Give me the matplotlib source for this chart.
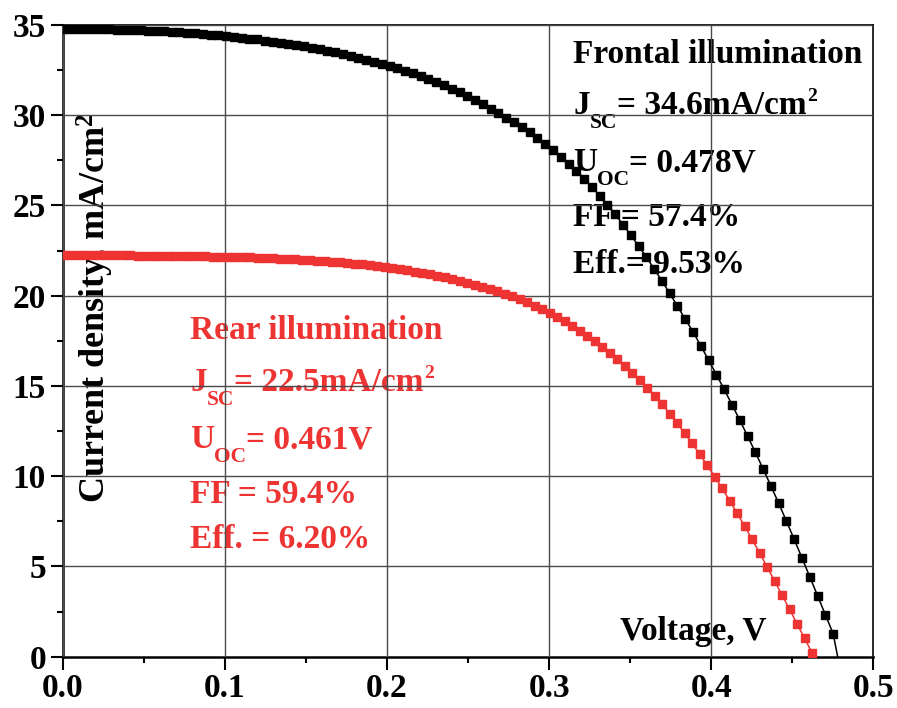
import numpy as np
import matplotlib
matplotlib.use("Agg")
import matplotlib.pyplot as plt
import matplotlib.transforms as mtransforms
from matplotlib.ticker import MultipleLocator, FormatStrFormatter

# J-V curves of the cell, front and rear illumination (voltage sweep steps)
V_STEP_FRONT = 0.0048
V_STEP_REAR = 0.004622
UOC_FRONT = 0.478

J_FRONT = [
    34.80, 34.80, 34.80, 34.79, 34.78, 34.78, 34.77, 34.75, 34.74, 34.72,
    34.70, 34.69, 34.66, 34.64, 34.61, 34.59, 34.56, 34.53, 34.49, 34.46,
    34.42, 34.38, 34.34, 34.30, 34.25, 34.20, 34.14, 34.08, 34.02, 33.95,
    33.88, 33.81, 33.73, 33.65, 33.57, 33.48, 33.38, 33.28, 33.18, 33.07,
    32.96, 32.84, 32.72, 32.59, 32.46, 32.32, 32.17, 32.02, 31.84, 31.66,
    31.47, 31.27, 31.05, 30.83, 30.60, 30.36, 30.13, 29.87, 29.61, 29.35,
    29.06, 28.75, 28.43, 28.08, 27.71, 27.32, 26.91, 26.48, 26.02, 25.54,
    25.03, 24.50, 23.94, 23.36, 22.76, 22.14, 21.49, 20.82, 20.13, 19.42,
    18.70, 18.00, 17.22, 16.43, 15.63, 14.81, 13.97, 13.11, 12.23, 11.33,
    10.41, 9.47, 8.50, 7.51, 6.50, 5.47, 4.43, 3.38, 2.33, 1.28,
]

J_REAR = [
    22.25, 22.25, 22.25, 22.24, 22.24, 22.24, 22.24, 22.23, 22.23, 22.23,
    22.22, 22.22, 22.22, 22.21, 22.21, 22.20, 22.20, 22.19, 22.19, 22.18,
    22.17, 22.16, 22.15, 22.14, 22.13, 22.12, 22.11, 22.09, 22.08, 22.06,
    22.04, 22.02, 22.00, 21.98, 21.95, 21.92, 21.89, 21.86, 21.82, 21.78,
    21.74, 21.69, 21.64, 21.59, 21.53, 21.47, 21.41, 21.34, 21.27, 21.19,
    21.11, 21.02, 20.93, 20.83, 20.73, 20.62, 20.50, 20.38, 20.25, 20.11,
    19.96, 19.80, 19.63, 19.45, 19.26, 19.05, 18.82, 18.58, 18.33, 18.06,
    17.78, 17.48, 17.16, 16.83, 16.48, 16.12, 15.74, 15.32, 14.88, 14.44,
    13.98, 13.47, 12.93, 12.38, 11.82, 11.22, 10.61, 9.98, 9.33, 8.65,
    7.95, 7.23, 6.50, 5.75, 4.98, 4.20, 3.41, 2.62, 1.82, 1.02,
    0.22,
]

V_FRONT = np.arange(len(J_FRONT)) * V_STEP_FRONT
V_REAR = np.arange(len(J_REAR)) * V_STEP_REAR

# each line: list of (text, kind) with kind "n" normal, "sub", "sup"
FRONT_LINES = [
    [("Frontal illumination", "n")],
    [("J", "n"), ("SC", "sub"), ("= 34.6mA/cm", "n"), ("2", "sup")],
    [("U", "n"), ("OC", "sub"), ("= 0.478V", "n")],
    [("FF = 57.4%", "n")],
    [("Eff.= 9.53%", "n")],
]
REAR_LINES = [
    [("Rear illumination", "n")],
    [("J", "n"), ("SC", "sub"), ("= 22.5mA/cm", "n"), ("2", "sup")],
    [("U", "n"), ("OC", "sub"), ("= 0.461V", "n")],
    [("FF = 59.4%", "n")],
    [("Eff. = 6.20%", "n")],
]

RED = "#ee3333"
FS = 24
STYLE = {"n": (FS, 0), "sub": (15.5, -14), "sup": (14, 13)}

plt.rcParams["font.family"] = ["Liberation Serif", "DejaVu Serif"]
plt.rcParams["font.weight"] = "bold"
plt.rcParams["mathtext.fontset"] = "custom"
plt.rcParams["mathtext.rm"] = "Liberation Serif:bold"
plt.rcParams["mathtext.it"] = "Liberation Serif:bold"
plt.rcParams["mathtext.bf"] = "Liberation Serif:bold"
plt.rcParams["mathtext.default"] = "rm"

fig = plt.figure(figsize=(8.97, 7.08), dpi=100)
ax = fig.add_axes([0.0699, 0.0725, 0.9037, 0.8922])

ax.plot(V_FRONT, J_FRONT, color="black", lw=1.1, marker="s", ms=5.6,
        mec="black", mfc="black", zorder=3)
ax.plot([V_FRONT[-1], UOC_FRONT], [J_FRONT[-1], 0], color="black", lw=1.1, zorder=3)
ax.plot(V_REAR, J_REAR, color=RED, lw=1.1, marker="s", ms=5.1,
        mec=RED, mfc=RED, zorder=3)

ax.set_xlim(0, 0.5)
ax.set_ylim(0, 35)
ax.xaxis.set_major_locator(MultipleLocator(0.1))
ax.xaxis.set_minor_locator(MultipleLocator(0.05))
ax.yaxis.set_major_locator(MultipleLocator(5))
ax.yaxis.set_minor_locator(MultipleLocator(2.5))
ax.xaxis.set_major_formatter(FormatStrFormatter("%.1f"))

ax.set_axisbelow(False)
ax.grid(True, which="major", color="#4a4a4a", lw=1.0, zorder=2)

ax.tick_params(which="major", direction="out", length=9, width=1.5,
               labelsize=FS, pad=3, top=False, right=False)
ax.tick_params(which="minor", direction="out", length=4.5, width=1.5,
               top=False, right=False)
for side in ("left", "bottom"):
    ax.spines[side].set_linewidth(1.8)
for side in ("top", "right"):
    ax.spines[side].set_linewidth(1.2)

# axis titles sit inside the plot area
ax.text(0.02, 19.3, r"Current density, mA/cm$^{2}$", rotation=90,
        ha="center", va="center", fontsize=26, zorder=1)
ax.text(0.344, 0.93, "Voltage, V", ha="left", va="baseline",
        fontsize=FS, zorder=1)

renderer = fig.canvas.get_renderer()


def draw_line(x, y, parts, color):
    dx = 0.0
    for txt, kind in parts:
        size, dy = STYLE[kind]
        tr = mtransforms.offset_copy(ax.transData, fig=fig, x=dx, y=dy, units="dots")
        t = ax.text(x, y, txt, transform=tr, fontsize=size, color=color,
                    ha="left", va="baseline", zorder=1)
        dx += t.get_window_extent(renderer).width


front_y = [32.89, 30.07, 26.91, 23.86, 21.26]
for parts, y in zip(FRONT_LINES, front_y):
    draw_line(0.3148, y, parts, "black")

rear_y = [17.60, 14.72, 11.56, 8.52, 6.02]
for parts, y in zip(REAR_LINES, rear_y):
    draw_line(0.0786, y, parts, RED)

fig.savefig("out.png", dpi=100)
